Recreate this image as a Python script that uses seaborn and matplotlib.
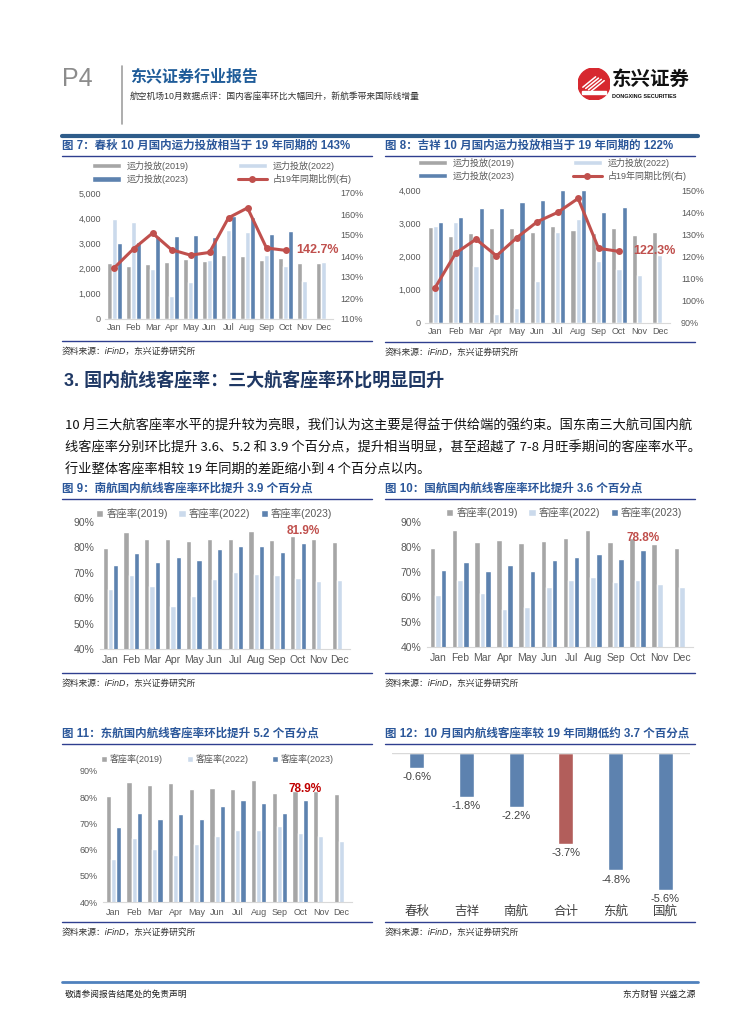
import numpy as np
import pandas as pd
import matplotlib.pyplot as plt
import seaborn as sns
from matplotlib.lines import Line2D
from matplotlib.patches import Circle, Rectangle

months = ['Jan', 'Feb', 'Mar', 'Apr', 'May', 'Jun', 'Jul', 'Aug', 'Sep', 'Oct', 'Nov', 'Dec']

# 图7 春秋 运力投放
cq_cap_2019 = [2240, 2120, 2170, 2280, 2400, 2320, 2550, 2510, 2350, 2430, 2240, 2240]
cq_cap_2022 = [3980, 3860, 1980, 920, 1450, 2350, 3540, 3450, 2550, 2110, 1510, 2270]
cq_cap_2023 = [3010, 3060, 3300, 3300, 3340, 3260, 4100, 4050, 3370, 3500]
cq_ratio = [134.5, 143.4, 150.9, 143.0, 140.4, 141.7, 158.2, 162.9, 143.8, 142.7]

# 图8 吉祥 运力投放
jx_cap_2019 = [2880, 2620, 2700, 2850, 2850, 2730, 2930, 2800, 2700, 2850, 2650, 2730]
jx_cap_2022 = [2920, 3040, 1720, 280, 450, 1270, 2730, 3130, 1870, 1630, 1430, 2050]
jx_cap_2023 = [3040, 3180, 3450, 3450, 3650, 3710, 4010, 4010, 3340, 3480]
jx_ratio = [106.0, 121.5, 127.8, 120.3, 128.5, 135.7, 139.9, 146.2, 123.7, 122.3]

# 图9 南航 客座率
nh_2019 = [79.8, 86.1, 83.5, 83.5, 82.4, 83.5, 83.5, 86.5, 82.8, 84.6, 83.5, 82.0]
nh_2022 = [63.8, 69.2, 64.8, 57.0, 60.9, 67.5, 70.3, 69.4, 69.0, 67.8, 66.8, 67.2]
nh_2023 = [73.0, 77.6, 74.2, 76.4, 75.2, 79.3, 80.7, 80.5, 78.3, 81.9]

# 图10 国航 客座率
gh_2019 = [79.8, 86.7, 82.2, 83.0, 81.8, 82.6, 83.8, 86.7, 82.2, 83.8, 81.4, 79.8]
gh_2022 = [60.7, 66.8, 61.5, 55.4, 56.0, 64.0, 66.8, 67.9, 66.0, 66.8, 65.2, 63.9]
gh_2023 = [70.9, 74.0, 70.6, 72.8, 70.5, 74.7, 76.2, 77.4, 75.4, 78.8]

# 图11 东航 客座率
dh_2019 = [80.4, 85.7, 84.5, 85.3, 83.0, 83.4, 83.0, 86.7, 81.6, 82.3, 82.3, 81.2]
dh_2022 = [56.3, 64.4, 60.2, 57.9, 62.0, 65.1, 67.5, 67.5, 68.9, 66.3, 65.1, 63.4]
dh_2023 = [68.5, 73.9, 71.5, 73.6, 71.5, 76.5, 78.8, 77.6, 73.9, 78.9]

# 图12 10月客座率较19年同期差距
gap_airlines = ['春秋', '吉祥', '南航', '合计', '东航', '国航']
gap_values = [-0.6, -1.8, -2.2, -3.7, -4.8, -5.6]

C19, C22, C23, RED = '#A6A6A6', '#C6D9F1', '#4F81BD', '#C0504D'
TITLE_C = '#2B579A'
GRAY_T = '#595959'

sns.set_style('white')
plt.rcParams['font.family'] = ['Liberation Sans', 'Noto Sans CJK SC', 'DejaVu Sans']
plt.rcParams['axes.unicode_minus'] = False

W, H = 755, 1024
fig = plt.figure(figsize=(7.55, 10.24), dpi=100)


def ax_at(l, t, r, b):
    return fig.add_axes([l / W, 1 - b / H, (r - l) / W, (b - t) / H])


def txt(x, y, s, **kw):
    kw.setdefault('va', 'center')
    fig.text(x / W, 1 - y / H, s, **kw)


def hline(x0, x1, y, **kw):
    fig.add_artist(Line2D([x0 / W, x1 / W], [1 - y / H, 1 - y / H], **kw))


def pad(v):
    return list(v) + [np.nan] * (12 - len(v))


def bars(ax, v19, v22, v23, names):
    df = pd.DataFrame({
        'month': months * 3,
        'value': list(v19) + list(v22) + pad(v23),
        'series': [names[0]] * 12 + [names[1]] * 12 + [names[2]] * 12,
    })
    sns.barplot(data=df, x='month', y='value', hue='series', palette=[C19, C22, C23],
                width=0.75, gap=0, errorbar=None, ax=ax)
    h, l = ax.get_legend_handles_labels()
    ax.get_legend().remove()
    ax.set_xlabel('')
    ax.set_ylabel('')
    for s in ['top', 'right', 'left']:
        ax.spines[s].set_visible(False)
    ax.spines['bottom'].set_color('#D9D9D9')
    ax.set_xlim(-0.5, 11.5)
    return h, l


def frame(x0, x1, title, t_y, src_y, fs=8.3):
    txt(x0, t_y, title, fontsize=fs, fontweight='bold', color=TITLE_C)
    hline(x0, x1, t_y + 10, color='#2F3F8F', lw=1)
    hline(x0, x1, src_y, color='#2F3F8F', lw=1)
    txt(x0, src_y + 10, '资料来源：iFinD，东兴证券研究所', fontsize=6.3, color='#333333', style='italic')


# ---------- header ----------
txt(62, 79, 'P4', fontsize=18, color='#8C8C8C')
fig.add_artist(Line2D([122 / W, 122 / W], [1 - 66 / H, 1 - 124 / H], color='#A0A0A0', lw=1.2))
txt(130, 77, '东兴证券行业报告', fontsize=11.5, fontweight='bold', color='#1F5C99')
txt(130, 96, '航空机场10月数据点评：国内客座率环比大幅回升，新航季带来国际线增量', fontsize=6.3, color='#333333')
logo = ax_at(578, 68, 610, 100)
logo.set_xlim(-1, 1)
logo.set_ylim(-1, 1)
logo.set_aspect('equal')
logo.axis('off')
logo.add_patch(Circle((0, 0), 1, color='#D7282F'))
for k in range(4):
    logo.plot([-0.7 + k * 0.18, 0.1 + k * 0.18], [-0.2 - k * 0.08, 0.45 - k * 0.08], color='white', lw=1.1)
logo.add_patch(Rectangle((-0.75, -0.6), 1.5, 0.18, color='white'))
txt(612, 80, '东兴证券', fontsize=14, fontweight='bold', color='#111111')
txt(612, 97, 'DONGXING SECURITIES', fontsize=4, fontweight='bold', color='#111111')
hline(62, 698, 136, color='#2E5C8A', lw=3)

# ---------- 图7 ----------
frame(62, 372, '图 7：春秋 10 月国内运力投放相当于 19 年同期的 143%', 146, 341)
ax = ax_at(105, 193, 333, 319)
h, l = bars(ax, cq_cap_2019, cq_cap_2022, cq_cap_2023,
            ['运力投放(2019)', '运力投放(2022)', '运力投放(2023)'])
ax.set_ylim(0, 5000)
ax.set_yticks(range(0, 5001, 1000))
ax.set_yticklabels([f'{v:,}' for v in range(0, 5001, 1000)])
ax.tick_params(length=0, labelsize=6.5, colors=GRAY_T, pad=3)
ax2 = ax.twinx()
sns.lineplot(x=np.arange(len(cq_ratio)), y=cq_ratio, ax=ax2, color=RED, lw=2.2, marker='o',
             markersize=5, markeredgewidth=0, label='占19年同期比例(右)')
ax2.get_legend().remove()
ax2.set_xlim(-0.5, 11.5)
ax2.set_ylim(110, 170)
ax2.set_yticks(range(110, 171, 10))
ax2.set_yticklabels([f'{v}%' for v in range(110, 171, 10)])
ax2.tick_params(length=0, labelsize=6.5, colors=GRAY_T, pad=5)
for s in ax2.spines.values():
    s.set_visible(False)
ax2.annotate(f'{cq_ratio[-1]}%', xy=(len(cq_ratio) - 1, cq_ratio[-1]), xytext=(8, 0),
             textcoords='offset points', ha='left', va='center', fontsize=9, fontweight='bold', color=RED)
lh = ax2.get_legend_handles_labels()
fig.legend([h[0], h[2], h[1], lh[0][0]], [l[0], l[2], l[1], lh[1][0]], ncol=2, loc='upper left',
           bbox_to_anchor=(92 / W, 1 - 161 / H), frameon=False, fontsize=6.5, labelcolor=GRAY_T,
           handlelength=3.2, handleheight=0.5, columnspacing=5.5, labelspacing=0.35, handletextpad=0.6,
           borderpad=0, borderaxespad=0)

# ---------- 图8 ----------
frame(385, 695, '图 8：吉祥 10 月国内运力投放相当于 19 年同期的 122%', 146, 342)
ax = ax_at(425, 190, 670, 323)
h, l = bars(ax, jx_cap_2019, jx_cap_2022, jx_cap_2023,
            ['运力投放(2019)', '运力投放(2022)', '运力投放(2023)'])
ax.set_ylim(0, 4000)
ax.set_yticks(range(0, 4001, 1000))
ax.set_yticklabels([f'{v:,}' for v in range(0, 4001, 1000)])
ax.tick_params(length=0, labelsize=6.5, colors=GRAY_T, pad=3)
ax2 = ax.twinx()
sns.lineplot(x=np.arange(len(jx_ratio)), y=jx_ratio, ax=ax2, color=RED, lw=2.2, marker='o',
             markersize=5, markeredgewidth=0, label='占19年同期比例(右)')
ax2.get_legend().remove()
ax2.set_xlim(-0.5, 11.5)
ax2.set_ylim(90, 150)
ax2.set_yticks(range(90, 151, 10))
ax2.set_yticklabels([f'{v}%' for v in range(90, 151, 10)])
ax2.tick_params(length=0, labelsize=6.5, colors=GRAY_T, pad=8)
for s in ax2.spines.values():
    s.set_visible(False)
ax2.annotate(f'{jx_ratio[-1]}%', xy=(len(jx_ratio) - 1, jx_ratio[-1]), xytext=(10, 0),
             textcoords='offset points', ha='left', va='center', fontsize=9, fontweight='bold', color=RED)
lh = ax2.get_legend_handles_labels()
fig.legend([h[0], h[2], h[1], lh[0][0]], [l[0], l[2], l[1], lh[1][0]], ncol=2, loc='upper left',
           bbox_to_anchor=(418 / W, 1 - 158 / H), frameon=False, fontsize=6.5, labelcolor=GRAY_T,
           handlelength=3.2, handleheight=0.5, columnspacing=6.5, labelspacing=0.3, handletextpad=0.6,
           borderpad=0, borderaxespad=0)

# ---------- 正文 ----------
txt(64, 381, '3. 国内航线客座率：三大航客座率环比明显回升', fontsize=13, fontweight='bold', color='#1F3864')
para = ['10 月三大航客座率水平的提升较为亮眼，我们认为这主要是得益于供给端的强约束。国东南三大航司国内航',
        '线客座率分别环比提升 3.6、5.2 和 3.9 个百分点，提升相当明显，甚至超越了 7-8 月旺季期间的客座率水平。',
        '行业整体客座率相较 19 年同期的差距缩小到 4 个百分点以内。']
for i, line in enumerate(para):
    txt(65, 425 + i * 22.5, line, fontsize=9.5, color='#111111', family=['Noto Sans CJK SC', 'DejaVu Sans'])


def load_chart(x0, x1, t_y, src_y, title, box, v19, v22, v23, leg_x, leg_y, fs, ann_color, leg_sp):
    frame(x0, x1, title, t_y, src_y)
    ax = ax_at(*box)
    h, l = bars(ax, v19, v22, v23, ['客座率(2019)', '客座率(2022)', '客座率(2023)'])
    ax.set_ylim(40, 90)
    ax.set_yticks(range(40, 91, 10))
    ax.set_yticklabels([f'{v}%' for v in range(40, 91, 10)])
    ax.tick_params(length=0, labelsize=fs, colors=GRAY_T, pad=4)
    ax.annotate(f'{v23[-1]}%', xy=(len(v23) - 1 + 0.25, v23[-1]), xytext=(0, 4),
                textcoords='offset points', ha='center', va='bottom', fontsize=8.5,
                fontweight='bold', color=ann_color)
    fig.legend(h, l, ncol=3, loc='center left', bbox_to_anchor=(leg_x / W, 1 - leg_y / H),
               frameon=False, fontsize=fs, labelcolor=GRAY_T, handlelength=0.7, handleheight=0.7,
               columnspacing=leg_sp, handletextpad=0.3, borderpad=0, borderaxespad=0)


load_chart(62, 372, 489, 673, '图 9：南航国内航线客座率环比提升 3.9 个百分点', (100, 522, 350, 649),
           nh_2019, nh_2022, nh_2023, 96, 514, 7.5, RED, 1.0)
load_chart(385, 695, 489, 673, '图 10：国航国内航线客座率环比提升 3.6 个百分点', (427, 522, 693, 647),
           gh_2019, gh_2022, gh_2023, 446, 513, 7.5, RED, 1.0)
load_chart(62, 372, 734, 922, '图 11：东航国内航线客座率环比提升 5.2 个百分点', (103, 771, 352, 902),
           dh_2019, dh_2022, dh_2023, 101, 759, 6.5, '#C00000', 2.6)

# ---------- 图12 ----------
frame(385, 695, '图 12：10 月国内航线客座率较 19 年同期低约 3.7 个百分点', 734, 922)
ax = ax_at(392, 753, 690, 903)
gdf = pd.DataFrame({'airline': gap_airlines, 'gap': gap_values})
sns.barplot(data=gdf, x='airline', y='gap', hue='airline',
            palette=[RED if a == '合计' else C23 for a in gap_airlines],
            width=0.3, errorbar=None, legend=False, ax=ax)
ax.set_ylim(-6.13, 0)
ax.axhline(0, color='#D9D9D9', lw=1)
for s in ax.spines.values():
    s.set_visible(False)
ax.set_yticks([])
ax.set_xlabel('')
ax.set_ylabel('')
ax.tick_params(length=0, labelsize=9, colors='#404040', pad=2)
for i, v in enumerate(gap_values):
    ax.annotate(f'{v}%', xy=(i, v), xytext=(0, -3), textcoords='offset points',
                ha='center', va='top', fontsize=8, color='#404040')

# ---------- footer ----------
hline(62, 698, 982, color='#4F81BD', lw=2)
txt(65, 994, '敬请参阅报告结尾处的免责声明', fontsize=6.3, color='#222222')
txt(695, 994, '东方财智 兴盛之源', fontsize=6.3, color='#222222', ha='right')

fig.savefig('out.png', dpi=100)
